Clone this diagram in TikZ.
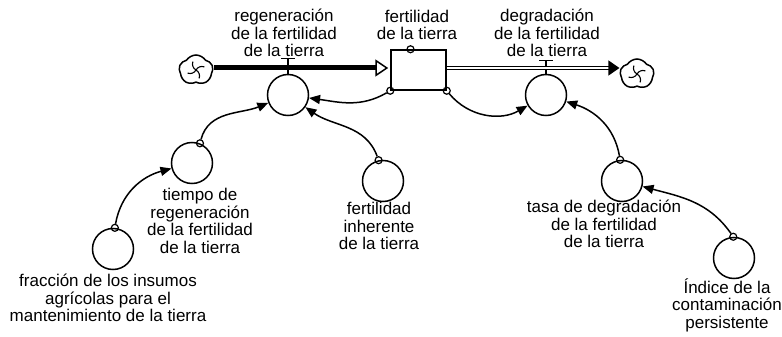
\documentclass[tikz,border=0pt]{standalone}
\usepackage{fontspec}
\setmainfont{Liberation Sans}
\usetikzlibrary{arrows.meta,shapes.symbols}

\begin{document}
\begin{tikzpicture}[x=1pt, y=1pt, >={Triangle[length=11pt,width=9pt]},
  aux/.style={draw, circle, line width=1.5pt, minimum size=41pt, inner sep=0pt},
  tag/.style={align=center, font=\fontsize{17}{17.5}\selectfont, inner sep=0pt},
  dot/.style={draw, circle, line width=1.2pt, minimum size=7pt, inner sep=0pt},
  link/.style={->, line width=1.5pt},
  valve/.style={line width=1.5pt},
  sink/.style={draw, cloud, cloud puffs=5, cloud puff arc=115, aspect=1.1, line width=1.5pt,
    minimum width=34pt, minimum height=30pt, inner sep=0pt}]
\useasboundingbox (0,0) rectangle (782,-337);
\node[sink] (cloudL) at (196,-70) {};
\node[draw, line width=1.5pt, minimum width=55pt, minimum height=40pt, inner sep=0pt] (stock) at (418.5,-70) {};
\node[sink] (cloudR) at (637,-74) {};
\foreach \c in {cloudL,cloudR}
  \foreach \a in {20,110,200,290}
    \draw[line width=1.1pt] (\c.center) to[bend left=40] ++(\a:9pt);
\node[aux] (regen) at (288,-95) {};
\node[aux] (degrad) at (546,-95) {};
\node[aux] (tiempo) at (192,-163) {};
\node[aux] (fraccion) at (113,-249) {};
\node[aux] (inherente) at (383,-181) {};
\node[aux] (tasa) at (622,-181) {};
\node[aux] (indice) at (734,-258) {};
\node[tag] (regenT) at (284,-33) {regeneración\\de la fertilidad\\de la tierra};
\node[tag] (stockT) at (417,-25) {fertilidad\\de la tierra};
\node[tag] (degradT) at (547,-33) {degradación\\de la fertilidad\\de la tierra};
\node[tag] (tiempoT) at (200,-221) {tiempo de\\regeneración\\de la fertilidad\\de la tierra};
\node[tag] (fraccionT) at (108,-298) {fracción de los insumos\\agrícolas para el\\mantenimiento de la tierra};
\node[tag] (inherenteT) at (379,-226) {fertilidad\\inherente\\de la tierra};
\node[tag] (tasaT) at (604,-224) {tasa de degradación\\de la fertilidad\\de la tierra};
\node[tag] (indiceT) at (727,-305) {Índice de la\\contaminación\\persistente};
\node[dot] (stockTop) at ([xshift=-8pt]stock.north) {};
\node[dot] (stockSW) at (stock.south west) {};
\node[dot] (stockSE) at (stock.south east) {};
\node[dot] (tiempoOut) at (tiempo.68) {};
\node[dot] (fraccionOut) at (fraccion.85) {};
\node[dot] (inherenteOut) at (inherente.102) {};
\node[dot] (tasaOut) at (tasa.95) {};
\node[dot] (indiceOut) at (indice.92) {};
\draw[valve] (regen.north) -- ++(0,15) ++(-7,0) -- ++(14,0);
\draw[valve] (degrad.north) -- ++(0,13) ++(-7,0) -- ++(14,0);
\draw[line width=5pt, shorten >=2pt, -{Triangle[open, length=13pt, width=17pt, line width=1.5pt]}] (cloudL.east |- 0,-68) -- (stock.west |- 0,-68);
\draw[double, double distance=2.5pt, line width=1.2pt, -{Triangle[length=11pt, width=15pt]}] (stock.east |- 0,-68) -- (cloudR.west |- 0,-68);
\draw[link] (stockSW) to[out=-150, in=-8] (regen);
\draw[link] (inherenteOut) to[out=110, in=-35] (regen);
\draw[link] (fraccionOut) to[out=80, in=195] (tiempo);
\draw[link] (tiempoOut) to[out=75, in=202] (regen);
\draw[link] (stockSE) to[out=-50, in=210] (degrad);
\draw[link] (tasaOut) to[out=100, in=-18] (degrad);
\draw[link] (indiceOut) to[out=125, in=-15] (tasa);
\end{tikzpicture}
\end{document}
